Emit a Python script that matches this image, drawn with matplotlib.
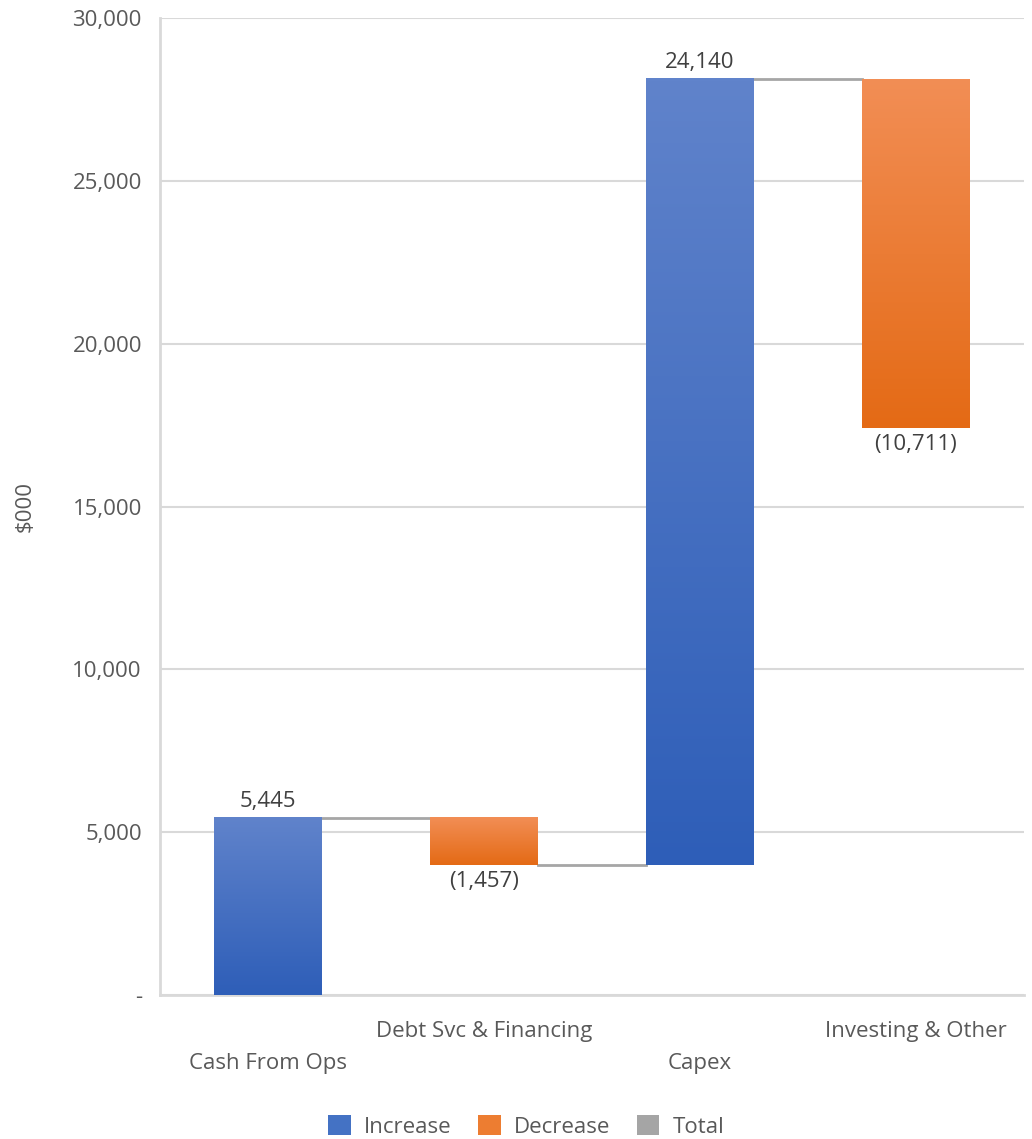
import numpy as np
import matplotlib.pyplot as plt
from matplotlib.patches import Patch
from matplotlib.colors import LinearSegmentedColormap

plt.rcParams['font.family'] = ['Open Sans', 'DejaVu Sans']

categories = ["Cash From Ops", "Debt Svc & Financing", "Capex", "Investing & Other"]
changes = [5445, -1457, 24140, -10711]
labels = ["5,445", "(1,457)", "24,140", "(10,711)"]
yticks = [0, 5000, 10000, 15000, 20000, 25000, 30000]
ytick_labels = ["-", "5,000", "10,000", "15,000", "20,000", "25,000", "30,000"]

blue_cmap = LinearSegmentedColormap.from_list("b", ["#2E5EB8", "#6083CB"])
orange_cmap = LinearSegmentedColormap.from_list("o", ["#E46A15", "#F28E55"])
text_col = "#595959"
grid_col = "#D9D9D9"
fs = 16

fig = plt.figure(figsize=(10.32, 11.39), dpi=100)
ax = fig.add_axes([0.155, 0.1264, 0.837, 0.8578])

width = 0.5
ends = np.cumsum(changes)
starts = ends - np.array(changes)
grad = np.linspace(0, 1, 256).reshape(-1, 1)

for i, (s, e, c) in enumerate(zip(starts, ends, changes)):
    lo, hi = min(s, e), max(s, e)
    cmap = blue_cmap if c > 0 else orange_cmap
    ax.imshow(grad, cmap=cmap, aspect='auto', origin='lower',
              extent=[i - width / 2, i + width / 2, lo, hi], zorder=3)
    if c > 0:
        ax.text(i, hi + 180, labels[i], ha='center', va='bottom',
                fontsize=fs, color="#404040", zorder=4)
    else:
        ax.text(i, lo - 180, labels[i], ha='center', va='top',
                fontsize=fs, color="#404040", zorder=4)
    if i < len(changes) - 1:
        ax.plot([i + width / 2, i + 1 - width / 2], [e, e],
                color="#A6A6A6", lw=2, zorder=2)

ax.set_xlim(-0.5, len(categories) - 0.5)
ax.set_ylim(0, 30000)
ax.set_yticks(yticks)
ax.set_yticklabels(ytick_labels)
ax.yaxis.grid(True, color=grid_col, lw=1.5, zorder=0)
ax.set_axisbelow(True)
ax.tick_params(axis='y', length=0, pad=13, labelsize=fs, labelcolor=text_col)
ax.set_xticks(range(len(categories)))
ax.set_xticklabels([])
ax.tick_params(axis='x', length=0)
for i, cat in enumerate(categories):
    yoff = -0.070 if i % 2 == 0 else -0.037
    ax.text(i, yoff, cat, transform=ax.get_xaxis_transform(), ha='center',
            va='center', fontsize=fs, color=text_col)

for side in ['top', 'right']:
    ax.spines[side].set_visible(False)
for side in ['left', 'bottom']:
    ax.spines[side].set_color(grid_col)
    ax.spines[side].set_linewidth(2)

ax.set_ylabel("$000", fontsize=fs, color=text_col)
ax.yaxis.set_label_coords(-0.144, 0.5)

handles = [Patch(facecolor="#4472C4", label="Increase"),
           Patch(facecolor="#ED7D31", label="Decrease"),
           Patch(facecolor="#A5A5A5", label="Total")]
leg = fig.legend(handles=handles, loc='center', bbox_to_anchor=(0.51, 0.011),
                 ncol=3, frameon=False, fontsize=fs, handlelength=1.0,
                 handleheight=1.0, columnspacing=1.2, handletextpad=0.6)
for t in leg.get_texts():
    t.set_color(text_col)

fig.savefig("out.png", dpi=100)
